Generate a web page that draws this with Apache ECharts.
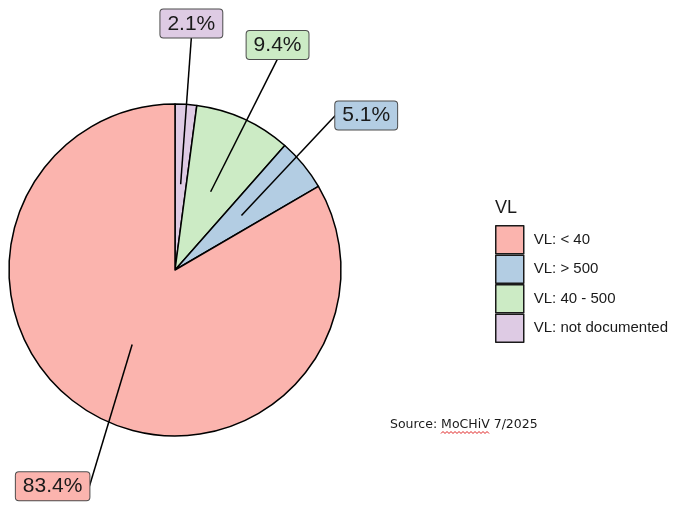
<!DOCTYPE html>
<html lang="en">
  <head>
    <meta charset="utf-8" />
    <style>
      html, body { margin: 0; background: #ffffff; }
      #chart { width: 676px; height: 513px; }
    </style>
  </head>
  <body>
    <div id="chart"></div>

    <script src="https://cdn.jsdelivr.net/npm/echarts@6/dist/echarts.min.js"></script>
    <script>
      // slices, clockwise from 12 o'clock as in the original plot
      var sliceNames = ["VL: not documented", "VL: 40 - 500", "VL: > 500", "VL: < 40"];
      var sliceValues = [2.1, 9.4, 5.1, 83.4];
      var sliceColors = ["#DECBE4", "#CCEBC5", "#B3CDE3", "#FBB4AE"];
      var legendOrder = ["VL: < 40", "VL: > 500", "VL: 40 - 500", "VL: not documented"];

      // label placement (layout only, like ggrepel nudges)
      var lineLength = [147, 147, 137, 138];
      var labelNudge = [[1, 0], [6, 1], [-12, -13], [26, 22]];
      var labelAlign = [["center", "bottom"], ["center", "bottom"], ["left", "middle"], ["right", "middle"]];

      var pieData = sliceNames.map(function (n, i) {
        return { name: n, value: sliceValues[i], itemStyle: { color: sliceColors[i] } };
      });

      // invisible inner pie, only used to anchor the labels inside the slices
      var labelData = sliceNames.map(function (n, i) {
        return {
          name: n,
          value: sliceValues[i],
          label: { backgroundColor: sliceColors[i] },
          labelLine: { length: lineLength[i] }
        };
      });

      // red squiggle under "MoCHiV"
      var squiggle = [];
      for (var x = 441; x <= 490; x += 2) {
        squiggle.push([x, (x - 441) % 4 === 0 ? 433.5 : 431.5]);
      }

      var chart = echarts.init(document.getElementById("chart"), null, { renderer: "canvas" });

      var option = {
        animation: false,
        backgroundColor: "#ffffff",
        textStyle: { fontFamily: "Liberation Sans, Arial, sans-serif" },
        title: {
          text: "VL",
          left: 495,
          top: 199,
          padding: 0,
          textStyle: { fontSize: 18, fontWeight: "normal", color: "#1a1a1a" }
        },
        legend: {
          data: legendOrder,
          orient: "vertical",
          left: 495,
          top: 225,
          padding: 0,
          icon: "rect",
          itemWidth: 28,
          itemHeight: 28,
          itemGap: 0,
          selectedMode: false,
          itemStyle: { borderColor: "#1a1a1a", borderWidth: 1.5 },
          textStyle: { fontSize: 15, color: "#1a1a1a", padding: [0, 0, 0, 5] }
        },
        graphic: [
          {
            type: "text",
            left: 390,
            top: 418,
            style: {
              text: "Source: MoCHiV 7/2025",
              fontFamily: "DejaVu Sans",
              fontSize: 12.5,
              fill: "#1a1a1a"
            }
          },
          {
            type: "polyline",
            shape: { points: squiggle },
            style: { stroke: "#e02020", lineWidth: 1, fill: null }
          }
        ],
        series: [
          {
            type: "pie",
            z: 2,
            center: [175, 270],
            radius: [0, 166],
            startAngle: 90,
            clockwise: true,
            silent: true,
            label: { show: false },
            labelLine: { show: false },
            emphasis: { disabled: true },
            itemStyle: { borderColor: "#000000", borderWidth: 1.5 },
            data: pieData
          },
          {
            type: "pie",
            z: 5,
            center: [175, 270],
            radius: [0, 86],
            startAngle: 90,
            clockwise: true,
            silent: true,
            avoidLabelOverlap: false,
            emphasis: { disabled: true },
            itemStyle: { color: "rgba(0,0,0,0)", borderWidth: 0 },
            label: {
              show: true,
              position: "outside",
              formatter: function (p) { return p.value.toFixed(1) + "%"; },
              fontSize: 21,
              fontFamily: "Liberation Sans, Arial, sans-serif",
              color: "#1a1a1a",
              padding: [4, 7, 3, 7],
              borderColor: "#4d4d4d",
              borderWidth: 1,
              borderRadius: 3
            },
            labelLine: {
              show: true,
              length2: 0,
              lineStyle: { color: "#000000", width: 1.5 }
            },
            labelLayout: function (params) {
              var i = params.dataIndex;
              var pts = params.labelLinePoints;
              if (!pts) return {};
              var end = [pts[1][0] + labelNudge[i][0], pts[1][1] + labelNudge[i][1]];
              return {
                x: end[0],
                y: end[1],
                align: labelAlign[i][0],
                verticalAlign: labelAlign[i][1],
                labelLinePoints: [pts[0], end, end]
              };
            },
            data: labelData
          }
        ]
      };

      chart.setOption(option);
    </script>
  </body>
</html>
